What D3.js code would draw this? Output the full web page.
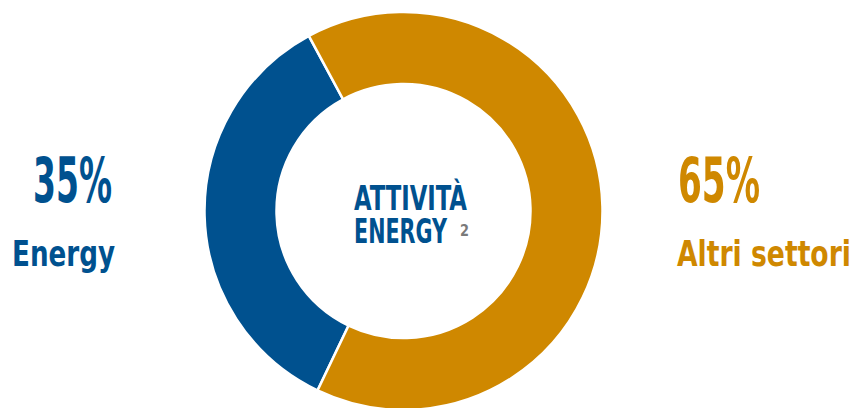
<!DOCTYPE html>
<html>
<head>
<meta charset="utf-8">
<script src="https://cdn.jsdelivr.net/npm/d3@7"></script>
<style>
  html, body { margin: 0; padding: 0; background: #ffffff; }
  svg { display: block; }
  text { font-family: "Liberation Sans Narrow", "DejaVu Sans Condensed", "Roboto", sans-serif; font-weight: bold; }
</style>
</head>
<body>
<svg id="chart" width="856" height="408"></svg>
<script>
const categories = ["Energy", "Altri settori"];
const values = [35, 65];
const percentLabels = ["35%", "65%"];
const colors = ["#00518f", "#cf8800"];
const centerTitle = ["ATTIVITÀ", "ENERGY"];
const centerSup = "2";

const W = 856, H = 408;
const cx = 403.5, cy = 211;
const outerR = 199, innerR = 127;

const svg = d3.select("#chart");

const start = 205.6 * Math.PI / 180;
const pie = d3.pie().sort(null).value(d => d).startAngle(start).endAngle(start + 2 * Math.PI);
const arc = d3.arc().innerRadius(innerR).outerRadius(outerR);

const g = svg.append("g").attr("transform", `translate(${cx},${cy})`);
g.selectAll("path")
  .data(pie(values))
  .join("path")
  .attr("d", arc)
  .attr("fill", (d, i) => colors[i])
  .attr("stroke", "#ffffff")
  .attr("stroke-width", 2.5)
  .attr("stroke-linejoin", "miter");

// text placed at (x, y), horizontally scaled to a given width
function fitText(str, x, y, size, width, fill) {
  const t = svg.append("text")
    .attr("x", 0).attr("y", 0)
    .attr("font-size", size)
    .attr("fill", fill)
    .text(str);
  const natural = t.node().getComputedTextLength();
  const sx = width / natural;
  t.attr("transform", `translate(${x},${y}) scale(${sx},1)`);
  return t;
}

// side labels
const sideLayout = [
  { pctX: 33, pctW: 79, catX: 12, catW: 103 },
  { pctX: 678, pctW: 82, catX: 677, catW: 174 }
];
categories.forEach((c, i) => {
  const L = sideLayout[i];
  fitText(percentLabels[i], L.pctX, 202, 62, L.pctW, colors[i]);
  fitText(c, L.catX, 266, 35, L.catW, colors[i]);
});

// center label
fitText(centerTitle[0], 354, 210, 33, 113, colors[0]);
fitText(centerTitle[1], 354, 243, 33, 93, colors[0]);
fitText(centerSup, 460, 236, 16, 9, "#7a7a7a");
</script>
</body>
</html>
